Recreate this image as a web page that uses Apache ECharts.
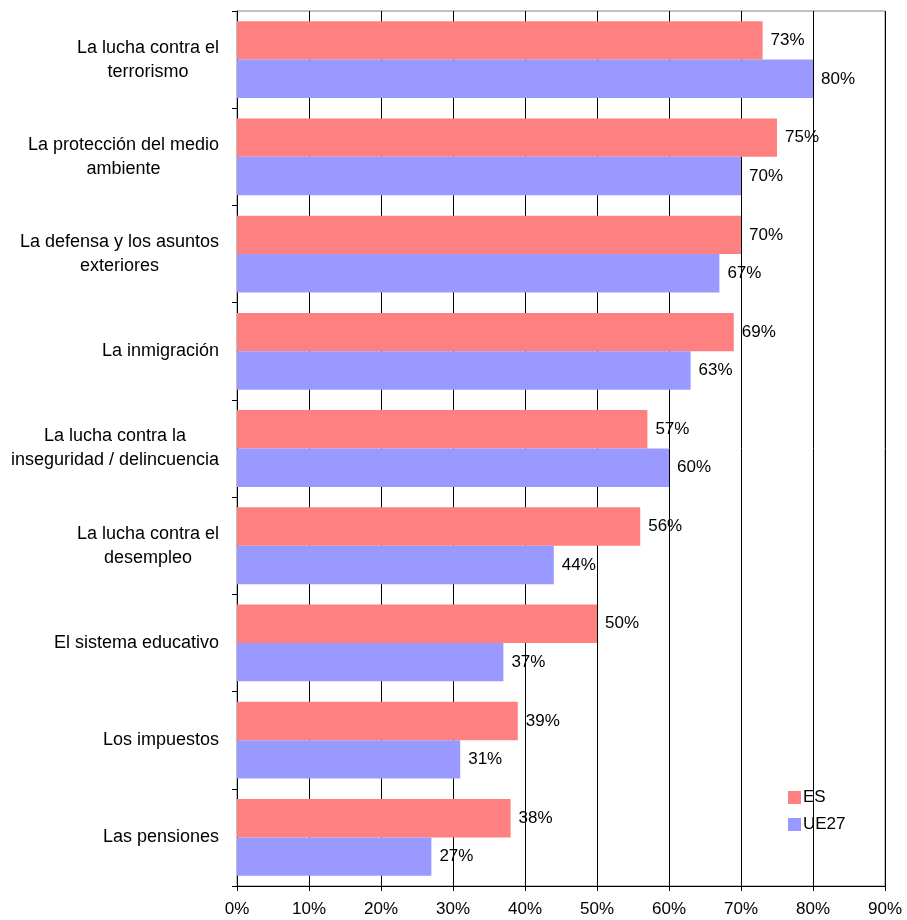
<!DOCTYPE html>
<html>
<head>
<meta charset="utf-8">
<script src="https://cdn.jsdelivr.net/npm/echarts@6/dist/echarts.min.js"></script>
<style>
  html, body { margin: 0; padding: 0; background: #fff; }
  #chart { width: 907px; height: 920px; }
</style>
</head>
<body>
<div id="chart"></div>
<script>
// Topics, listed top to bottom
const categories = [
  'La lucha contra el\nterrorismo',
  'La protección del medio\nambiente',
  'La defensa y los asuntos\nexteriores',
  'La inmigración',
  'La lucha contra la\ninseguridad / delincuencia',
  'La lucha contra el\ndesempleo',
  'El sistema educativo',
  'Los impuestos',
  'Las pensiones'
];
const seriesNames = ['ES', 'UE27'];
const valuesES = [73, 75, 70, 69, 57, 56, 50, 39, 38];
const valuesUE27 = [80, 70, 67, 63, 60, 44, 37, 31, 27];
const xTicks = [0, 10, 20, 30, 40, 50, 60, 70, 80, 90];

const FONT = '"Liberation Sans", Arial, sans-serif';
const LABEL_SIZE = 18;

// Measure each category's lines so multi-line labels can be centred as a block
const ctx = document.createElement('canvas').getContext('2d');
ctx.font = LABEL_SIZE + 'px ' + FONT;
const rich = {};
categories.forEach((c, i) => {
  const w = Math.max(...c.split('\n').map(s => ctx.measureText(s).width));
  rich['c' + i] = {
    width: Math.ceil(w) + 1,
    align: 'center',
    fontSize: LABEL_SIZE,
    fontFamily: FONT,
    color: '#000',
    lineHeight: 24
  };
});

const chart = echarts.init(document.getElementById('chart'), null, { renderer: 'canvas' });

const labelCommon = {
  show: true,
  position: 'right',
  distance: 8,
  formatter: p => p.value + '%',
  fontSize: 17,
  fontFamily: FONT,
  color: '#000'
};

chart.setOption({
  animation: false,
  backgroundColor: '#fff',
  grid: {
    left: 237, right: 22, top: 11, bottom: 34,
    show: true,
    borderColor: '#808080',
    borderWidth: 1
  },
  legend: {
    orient: 'vertical',
    left: 783,
    top: 784,
    itemWidth: 13,
    itemHeight: 13,
    itemGap: 10,
    icon: 'rect',
    textStyle: { fontSize: 17, fontFamily: FONT, color: '#000', padding: [0, 0, 0, -3] },
    data: seriesNames
  },
  xAxis: {
    type: 'value',
    min: xTicks[0],
    max: xTicks[xTicks.length - 1],
    interval: 10,
    axisLine: { show: true, lineStyle: { color: '#000', width: 1 } },
    axisTick: { show: true, length: 5, lineStyle: { color: '#000' } },
    splitLine: { show: true, lineStyle: { color: '#000', width: 1 } },
    axisLabel: {
      margin: 15,
      fontSize: 17,
      fontFamily: FONT,
      color: '#000',
      formatter: v => v + '%'
    }
  },
  yAxis: {
    type: 'category',
    inverse: true,
    data: categories,
    axisLine: { show: true, lineStyle: { color: '#000', width: 1 } },
    axisTick: { show: true, length: 5, lineStyle: { color: '#000' } },
    axisLabel: {
      margin: 17,
      align: 'right',
      formatter: (v, i) => v.split('\n').map(s => '{c' + i + '|' + s + '}').join('\n'),
      rich: rich
    }
  },
  series: [
    {
      name: seriesNames[0],
      type: 'bar',
      data: valuesES,
      barGap: '0%',
      barCategoryGap: '21%',
      itemStyle: { color: '#FF8080' },
      label: labelCommon
    },
    {
      name: seriesNames[1],
      type: 'bar',
      data: valuesUE27,
      barGap: '0%',
      barCategoryGap: '21%',
      itemStyle: { color: '#9999FF' },
      label: labelCommon
    }
  ]
});
</script>
</body>
</html>
